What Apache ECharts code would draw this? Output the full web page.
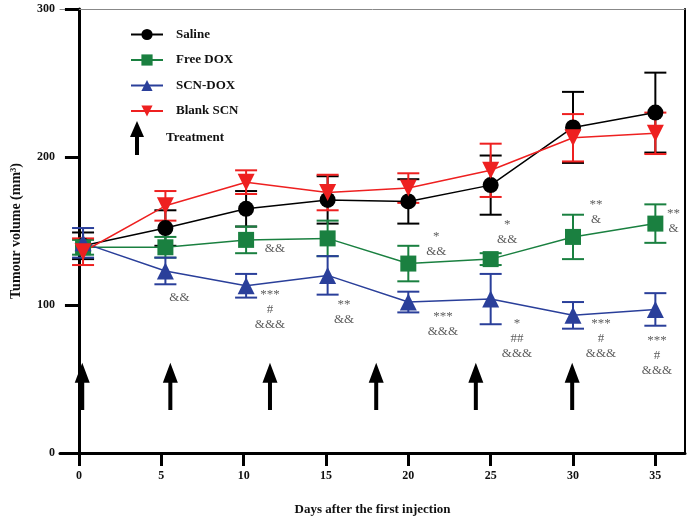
<!DOCTYPE html>
<html><head><meta charset="utf-8">
<script src="https://cdn.jsdelivr.net/npm/echarts@6/dist/echarts.min.js"></script>
<style>html,body{margin:0;padding:0;background:#fff}#c{width:691px;height:520px}</style>
</head><body><div id="c"></div>
<script>
const days = [0.25, 5.25, 10.15, 15.1, 20, 25, 30, 35];
const xTicks = [0, 5, 10, 15, 20, 25, 30, 35];
const saline = [140, 152, 165, 171, 170, 181, 220, 230];
const salineErr = [9, 12, 12, 16, 15, 20, 24, 27];
const freeDox = [139, 139, 144, 145, 128, 131, 146, 155];
const freeErr = [5, 7, 9, 12, 12, 4, 15, 13];
const scnDox = [142, 123, 113, 120, 102, 104, 93, 97];
const scnErr = [10, 9, 8, 13, 7, 17, 9, 11];
const blankScn = [136, 167, 183, 176, 179, 191, 213, 216];
const blankErr = [9, 10, 8, 12, 10, 18, 16, 14];
const treatDays = [0.2, 5.55, 11.6, 18.05, 24.1, 29.95];
const treatFrom = 29, treatTo = 61;
const annX = [6.1, 11.9, 11.6, 16.1, 21.7, 22.1, 26.0, 26.6, 31.4, 31.7, 36.1, 35.1];
const annY = [105, 138, 97, 95, 141, 87, 149, 77, 163, 77, 157, 66];
const annText = ['&&', '&&', '***\n#\n&&&', '**\n&&', '*\n&&', '***\n&&&', '*\n&&', '*\n##\n&&&', '**\n&', '***\n#\n&&&', '**\n&', '***\n#\n&&&'];

const SERIF = '"Liberation Serif","Times New Roman",serif';
const arrowPath = 'path://M7,0 L14,16 L9,16 L9,34 L5,34 L5,16 L0,16 Z';

function errSeries(vals, errs, color) {
  return {
    type: 'custom', silent: true, z: 2,
    data: days.map((d, i) => [d, vals[i] - errs[i], vals[i] + errs[i]]),
    renderItem: function (params, api) {
      const x = api.value(0);
      const lo = api.coord([x, api.value(1)]);
      const hi = api.coord([x, api.value(2)]);
      const w = 11;
      const st = { stroke: color, lineWidth: 2, fill: null };
      return { type: 'group', children: [
        { type: 'line', shape: { x1: lo[0], y1: lo[1], x2: hi[0], y2: hi[1] }, style: st },
        { type: 'line', shape: { x1: lo[0] - w, y1: lo[1], x2: lo[0] + w, y2: lo[1] }, style: st },
        { type: 'line', shape: { x1: hi[0] - w, y1: hi[1], x2: hi[0] + w, y2: hi[1] }, style: st }
      ]};
    }
  };
}
function lineSeries(name, vals, color, symbol, size, rotate) {
  return {
    name: name, type: 'line', data: days.map((d, i) => [d, vals[i]]),
    symbol: symbol, symbolSize: size, symbolRotate: rotate || 0,
    lineStyle: { color: color, width: 1.5 }, itemStyle: { color: color },
    z: 3
  };
}
const legendText = { fontFamily: SERIF, fontWeight: 'bold', fontSize: 13, color: '#111', padding: [0, 0, 0, 8] };

const chart = echarts.init(document.getElementById('c'));
chart.setOption({
  animation: false,
  backgroundColor: '#fff',
  grid: { left: 60, right: 6, top: 9, bottom: 67, outerBoundsMode: 'none', containLabel: false },
  legend: [{
    data: ['Saline', 'Free DOX', 'SCN-DOX', 'Blank SCN'],
    orient: 'vertical', left: 125, top: 23,
    itemWidth: 32, itemHeight: 14, itemGap: 12.5,
    textStyle: legendText
  }, {
    data: [{ name: 'Treatment', icon: arrowPath }],
    orient: 'vertical', left: 125, top: 116,
    itemWidth: 32, itemHeight: 34,
    textStyle: legendText
  }],
  xAxis: [{
    type: 'value', min: -1.15, max: 36.8,
    name: 'Days after the first injection', nameLocation: 'middle', nameGap: 50,
    nameTextStyle: { fontFamily: SERIF, fontWeight: 'bold', fontSize: 13, color: '#111' },
    axisLine: { onZero: false, lineStyle: { color: '#000', width: 3 } },
    axisTick: { show: true, length: 13, customValues: xTicks, lineStyle: { color: '#000', width: 3 } },
    axisLabel: { customValues: xTicks, margin: 17, fontFamily: SERIF, fontWeight: 'bold', fontSize: 12, color: '#111' },
    splitLine: { show: false }
  }, {
    type: 'value', min: -1.15, max: 36.8, position: 'top',
    axisLine: { onZero: false, lineStyle: { color: '#888', width: 1 } },
    axisTick: { show: false }, axisLabel: { show: false }, splitLine: { show: false }
  }],
  yAxis: [{
    type: 'value', min: 0, max: 300, interval: 100,
    name: 'Tumour volume (mm³)', nameLocation: 'middle', nameGap: 37, nameRotate: 90,
    nameTextStyle: { fontFamily: SERIF, fontWeight: 'bold', fontSize: 14, color: '#111' },
    axisLine: { onZero: true, onZeroAxisIndex: 0, lineStyle: { color: '#000', width: 3 } },
    axisTick: { show: true, length: 14, lineStyle: { color: '#000', width: 3 } },
    axisLabel: { margin: 5, fontFamily: SERIF, fontWeight: 'bold', fontSize: 12, color: '#111' },
    splitLine: { show: false }
  }, {
    type: 'value', min: 0, max: 300, position: 'right',
    axisLine: { show: true, onZero: false, lineStyle: { color: '#000', width: 2 } },
    axisTick: { show: false }, axisLabel: { show: false }, splitLine: { show: false }
  }],
  series: [
    errSeries(saline, salineErr, '#000'),
    lineSeries('Saline', saline, '#000', 'circle', 16),
    errSeries(freeDox, freeErr, '#1a8040'),
    lineSeries('Free DOX', freeDox, '#1a8040', 'rect', 16),
    errSeries(scnDox, scnErr, '#2a3f9a'),
    lineSeries('SCN-DOX', scnDox, '#2a3f9a', 'triangle', 17),
    errSeries(blankScn, blankErr, '#ee2020'),
    lineSeries('Blank SCN', blankScn, '#ee2020', 'triangle', 17, 180),
    {
      name: 'Treatment', type: 'custom', silent: true, z: 4,
      itemStyle: { color: '#000' },
      data: treatDays.map(d => [d, treatFrom, treatTo]),
      renderItem: function (params, api) {
        const x = api.value(0);
        const b = api.coord([x, api.value(1)]);
        const t = api.coord([x, api.value(2)]);
        const hw = 7.5, hh = 20, sw = 2;
        return {
          type: 'polygon',
          shape: { points: [[t[0], t[1]], [t[0] + hw, t[1] + hh], [t[0] + sw, t[1] + hh], [t[0] + sw, b[1]],
            [t[0] - sw, b[1]], [t[0] - sw, t[1] + hh], [t[0] - hw, t[1] + hh]] },
          style: { fill: '#000' }
        };
      }
    },
    {
      type: 'scatter', silent: true, symbolSize: 0, z: 5,
      data: annX.map((x, i) => ({ value: [x, annY[i]], text: annText[i] })),
      label: {
        show: true, position: 'inside',
        formatter: p => p.data.text,
        fontFamily: SERIF, fontSize: 13, lineHeight: 15, color: '#333'
      }
    }
  ]
});
</script></body></html>
